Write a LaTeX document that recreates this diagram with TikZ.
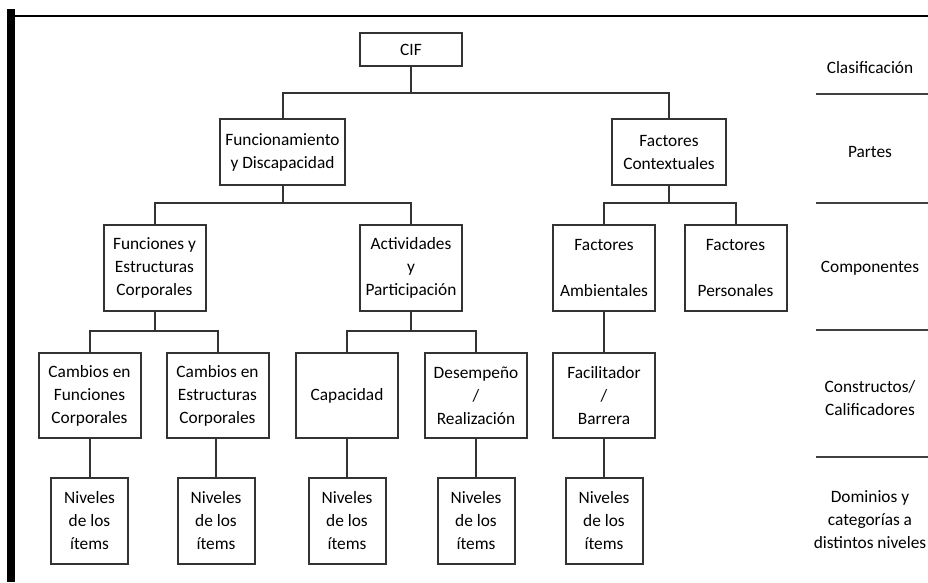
\documentclass[tikz,border=0pt]{standalone}
\usepackage{fontspec}
\setmainfont{Carlito}
\begin{document}
\begin{tikzpicture}[x=0.75pt,y=-0.75pt,
  every node/.style={font=\fontsize{13}{17.25}\selectfont,text=black},
  box/.style={draw=black!80,line width=1.5pt,align=center,inner sep=0pt},
  topbox/.style={box,minimum width=76.5pt,minimum height=24.75pt},
  partbox/.style={box,minimum height=49.5pt},
  compbox/.style={box,minimum width=76.5pt,minimum height=64.5pt},
  consbox/.style={box,minimum width=76.5pt,minimum height=63.75pt},
  itembox/.style={box,minimum width=57.75pt,minimum height=64.5pt},
  link/.style={draw=black!80,line width=1.5pt},
  rule/.style={draw=black!75,line width=1.5pt},
  side/.style={align=center}]
\useasboundingbox (0,0) rectangle (928,582);
\fill (7,9) rectangle (15,582);
\draw[line width=1.5pt] (15,16) -- (928,16);
\node[topbox] (cif) at (411,49.5) {CIF};
\node[partbox,minimum width=93.75pt] (fun) at (282.5,152) {Funcionamiento\\y Discapacidad};
\node[partbox,minimum width=85.5pt] (ctx) at (669,152) {Factores\\Contextuales};
\node[compbox] (est) at (154.5,267.5) {Funciones y\\Estructuras\\Corporales};
\node[compbox] (act) at (411,267.5) {Actividades\\y\\Participaci\'on};
\node[compbox] (amb) at (604,267.5) {Factores\\[17.25pt]Ambientales};
\node[compbox] (per) at (735.5,267.5) {Factores\\[17.25pt]Personales};
\node[consbox] (cfun) at (89.5,395.5) {Cambios en\\Funciones\\Corporales};
\node[consbox] (cest) at (217.5,395.5) {Cambios en\\Estructuras\\Corporales};
\node[consbox] (cap) at (347,395.5) {Capacidad};
\node[consbox] (des) at (476,395.5) {Desempeño\\/\\Realización};
\node[consbox] (fac) at (604,395.5) {Facilitador\\/\\Barrera};
\foreach \n/\x in {i1/89.5,i2/216,i3/347,i4/476,i5/604}
  \node[itembox] (\n) at (\x,520.5) {Niveles\\de los\\ítems};
\coordinate (j1) at (411,93);
\coordinate (j2) at (282.5,203);
\coordinate (j3) at (669,203);
\coordinate (j4) at (154.5,331);
\coordinate (j5) at (411,331);
\draw[link] (cif.south) -- (j1);
\draw[link] (fun.north) |- (j1) -| (ctx.north);
\draw[link] (fun.south) -- (j2);
\draw[link] (est.north) |- (j2) -| (act.north);
\draw[link] (ctx.south) -- (j3);
\draw[link] (amb.north) |- (j3) -| (per.north);
\draw[link] (est.south) -- (j4);
\draw[link] (cfun.north) |- (j4) -| (cest.north);
\draw[link] (act.south) -- (j5);
\draw[link] (cap.north) |- (j5) -| (des.north);
\draw[link] (amb.south) -- (fac.north);
\draw[link] (cfun.south) -- (i1.north);
\draw[link] (cest.south -| i2.north) -- (i2.north);
\draw[link] (cap.south) -- (i3.north);
\draw[link] (des.south) -- (i4.north);
\draw[link] (fac.south) -- (i5.north);
\node[side] (cla) at (870,68) {Clasificación};
\node[side] (par) at (870,152) {Partes};
\node[side] (com) at (870,268) {Componentes};
\node[side] (con) at (870,398) {Constructos/\\Calificadores};
\node[side] (dom) at (870,520) {Dominios y\\categorías a\\distintos niveles};
\foreach \y in {94,203,330,457}
  \draw[rule] (816,\y) -- (928,\y);
\end{tikzpicture}
\end{document}
